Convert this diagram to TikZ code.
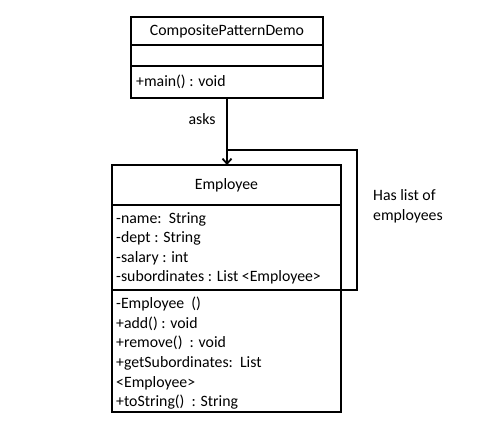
\documentclass[tikz,border=0pt]{standalone}
\usepackage{fontspec}
\setmainfont{Carlito}
\usetikzlibrary{arrows.meta,positioning}

\begin{document}
\begin{tikzpicture}[x=1pt,y=-1pt,
  font=\fontsize{15.8}{19.6}\selectfont,
  compart/.style={draw,line width=1.6pt,outer sep=0pt,inner sep=0pt},
  members/.style={anchor=north west,align=left,inner sep=0pt},
  link/.style={line width=1.4pt}]
  \useasboundingbox (0,0) rectangle (481,435);
  % client class
  \node[compart,minimum width=192pt,minimum height=28pt] (demotitle) at (227,31) {CompositePatternDemo};
  \node[compart,minimum width=192pt,minimum height=21pt,below=0pt of demotitle] (demoattr) {};
  \node[compart,minimum width=192pt,minimum height=32pt,below=0pt of demoattr] (demoops) {};
  \node[anchor=west,inner sep=0pt] (demomain) at ([xshift=5pt]demoops.west) {+main() : void};
  % component class
  \node[compart,minimum width=229pt,minimum height=40pt] (emptitle) at (226.5,185) {Employee};
  \node[compart,minimum width=229pt,minimum height=85pt,below=0pt of emptitle] (empattr) {};
  \node[compart,minimum width=229pt,minimum height=122pt,below=0pt of empattr] (empops) {};
  \node[members] (empfields) at ([xshift=4pt,yshift=-7pt]empattr.north west)
    {-name:\ \ String\\-dept : String\\-salary : int\\-subordinates : List <Employee>};
  \node[members] (empmethods) at ([xshift=4pt,yshift=-7pt]empops.north west)
    {-Employee\ \ ()\\+add() : void\\+remove()\ \ : void\\+getSubordinates:\ \ List\\<Employee>\\+toString()\ \ : String};
  % asks
  \coordinate (askend) at (demoops.south |- emptitle.north);
  \draw[link,line width=1.8pt,-{Straight Barb[length=5pt,width=9pt]}] (demoops.south) -- (askend);
  \node[left=8pt] (asks) at (227,119) {asks};
  % self association
  \coordinate (loopa) at (227,150);
  \coordinate (loopb) at (357,150);
  \coordinate (loopc) at (357,290);
  \draw[link] (loopa) -- (loopb) -- (loopc) -- (loopc -| empattr.east);
  \node[members,anchor=west] (haslist) at (373,206) {Has list of\\employees};
\end{tikzpicture}
\end{document}
